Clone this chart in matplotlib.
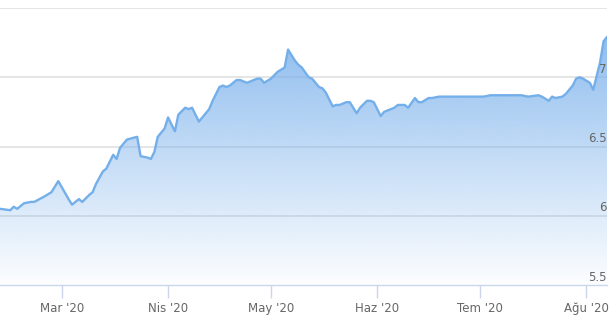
import numpy as np
import pandas as pd
import matplotlib.pyplot as plt
import matplotlib.dates as mdates
from matplotlib.patches import Polygon

dates = [
    "2020-02-12", "2020-02-15", "2020-02-16", "2020-02-17", "2020-02-19", "2020-02-21",
    "2020-02-22", "2020-02-25", "2020-02-27", "2020-02-29", "2020-03-03", "2020-03-04",
    "2020-03-06", "2020-03-07", "2020-03-09", "2020-03-10", "2020-03-11", "2020-03-13",
    "2020-03-14", "2020-03-16", "2020-03-17", "2020-03-18", "2020-03-20", "2020-03-23",
    "2020-03-24", "2020-03-26", "2020-03-27", "2020-03-28", "2020-03-29", "2020-03-31",
    "2020-04-01", "2020-04-03", "2020-04-04", "2020-04-06", "2020-04-07", "2020-04-08",
    "2020-04-10", "2020-04-11", "2020-04-13", "2020-04-14", "2020-04-16", "2020-04-17",
    "2020-04-18", "2020-04-19", "2020-04-21", "2020-04-22", "2020-04-24", "2020-04-25",
    "2020-04-27", "2020-04-28", "2020-04-29", "2020-05-01", "2020-05-03", "2020-05-05",
    "2020-05-06", "2020-05-08", "2020-05-09", "2020-05-10", "2020-05-12", "2020-05-13",
    "2020-05-15", "2020-05-16", "2020-05-17", "2020-05-19", "2020-05-20", "2020-05-21",
    "2020-05-23", "2020-05-24", "2020-05-26", "2020-05-27", "2020-05-29", "2020-05-30",
    "2020-05-31", "2020-06-02", "2020-06-03", "2020-06-04", "2020-06-06", "2020-06-07",
    "2020-06-09", "2020-06-10", "2020-06-12", "2020-06-13", "2020-06-14", "2020-06-16",
    "2020-06-17", "2020-06-19", "2020-06-20", "2020-06-21", "2020-06-23", "2020-06-26",
    "2020-06-29", "2020-07-02", "2020-07-04", "2020-07-07", "2020-07-11", "2020-07-13",
    "2020-07-15", "2020-07-18", "2020-07-19", "2020-07-21", "2020-07-22", "2020-07-23",
    "2020-07-25", "2020-07-26", "2020-07-28", "2020-07-29", "2020-07-30", "2020-07-31",
    "2020-08-02", "2020-08-03", "2020-08-05", "2020-08-06", "2020-08-07",
]
values = [
    6.05, 6.04, 6.065, 6.05, 6.09, 6.10,
    6.10, 6.14, 6.17, 6.25, 6.12, 6.08,
    6.12, 6.10, 6.15, 6.17, 6.23, 6.32,
    6.34, 6.44, 6.41, 6.49, 6.55, 6.57,
    6.43, 6.42, 6.41, 6.46, 6.57, 6.63,
    6.71, 6.61, 6.73, 6.78, 6.77, 6.78,
    6.68, 6.71, 6.77, 6.83, 6.93, 6.94,
    6.93, 6.94, 6.98, 6.98, 6.96, 6.97,
    6.99, 6.99, 6.96, 6.99, 7.04, 7.07,
    7.20, 7.12, 7.09, 7.07, 7.00, 6.99,
    6.93, 6.92, 6.89, 6.79, 6.80, 6.80,
    6.82, 6.82, 6.74, 6.78, 6.83, 6.83,
    6.82, 6.72, 6.75, 6.76, 6.78, 6.80,
    6.80, 6.78, 6.85, 6.82, 6.82, 6.85,
    6.85, 6.86, 6.86, 6.86, 6.86, 6.86,
    6.86, 6.86, 6.87, 6.87, 6.87, 6.87,
    6.86, 6.87, 6.86, 6.83, 6.86, 6.85,
    6.86, 6.88, 6.94, 6.99, 7.00, 6.99,
    6.96, 6.91, 7.11, 7.26, 7.29,
]
month_ticks = ["2020-03-01", "2020-04-01", "2020-05-01", "2020-06-01", "2020-07-01", "2020-08-01"]
month_labels = ["Mar '20", "Nis '20", "May '20", "Haz '20", "Tem '20", "Ağu '20"]
y_ticks = [5.5, 6, 6.5, 7, 7.5]
y_labels = ["5.5", "6", "6.5", "7", ""]

x = mdates.date2num(pd.to_datetime(dates))
y = np.array(values)
ymin, ymax = 5.5, 7.5

fig = plt.figure(figsize=(6.13, 3.22), dpi=100)
ax = fig.add_axes([0, 1 - 285 / 322, 607 / 613, (285 - 8) / 322])
ax.set_xlim(x[0], x[-1])
ax.set_ylim(ymin, ymax)

# gradient fill (semi transparent, so the grid shows through)
base = np.array([124, 178, 236]) / 255
t = np.linspace(0, 1, 256)[:, None]
alpha = 0.02 + 0.83 * t[:, 0]
grad = np.zeros((256, 1, 4))
grad[:, 0, :3] = base
grad[:, 0, 3] = alpha
img = ax.imshow(grad, extent=[x[0], x[-1], ymin, y.max()], origin="lower",
                aspect="auto", zorder=2, interpolation="bilinear")
poly = Polygon(np.column_stack([np.r_[x[0], x, x[-1]], np.r_[ymin, y, ymin]]),
               closed=True, facecolor="none", edgecolor="none")
ax.add_patch(poly)
img.set_clip_path(poly)

ax.plot(x, y, color="#74afea", lw=1.7, zorder=3, solid_joinstyle="round")

for v, lab in zip(y_ticks, y_labels):
    if v > ymin:
        ax.axhline(v, color="#dedede", lw=1.1, zorder=1)
    if lab:
        ax.text(1.0, v + 0.01, lab, transform=ax.get_yaxis_transform(),
                ha="right", va="bottom", fontsize=8.5, color="#666666", zorder=4)

for s in ["top", "right", "left"]:
    ax.spines[s].set_visible(False)
ax.spines["bottom"].set_color("#ccd6eb")
ax.spines["bottom"].set_linewidth(1)
ax.spines["bottom"].set_zorder(5)
ax.set_yticks([])
ax.set_xticks(mdates.date2num(pd.to_datetime(month_ticks)))
ax.set_xticklabels(month_labels, fontsize=8.5, color="#666666")
ax.tick_params(axis="x", length=9, width=1, color="#ccd6eb", pad=3)

fig.savefig("out.png", dpi=100)
